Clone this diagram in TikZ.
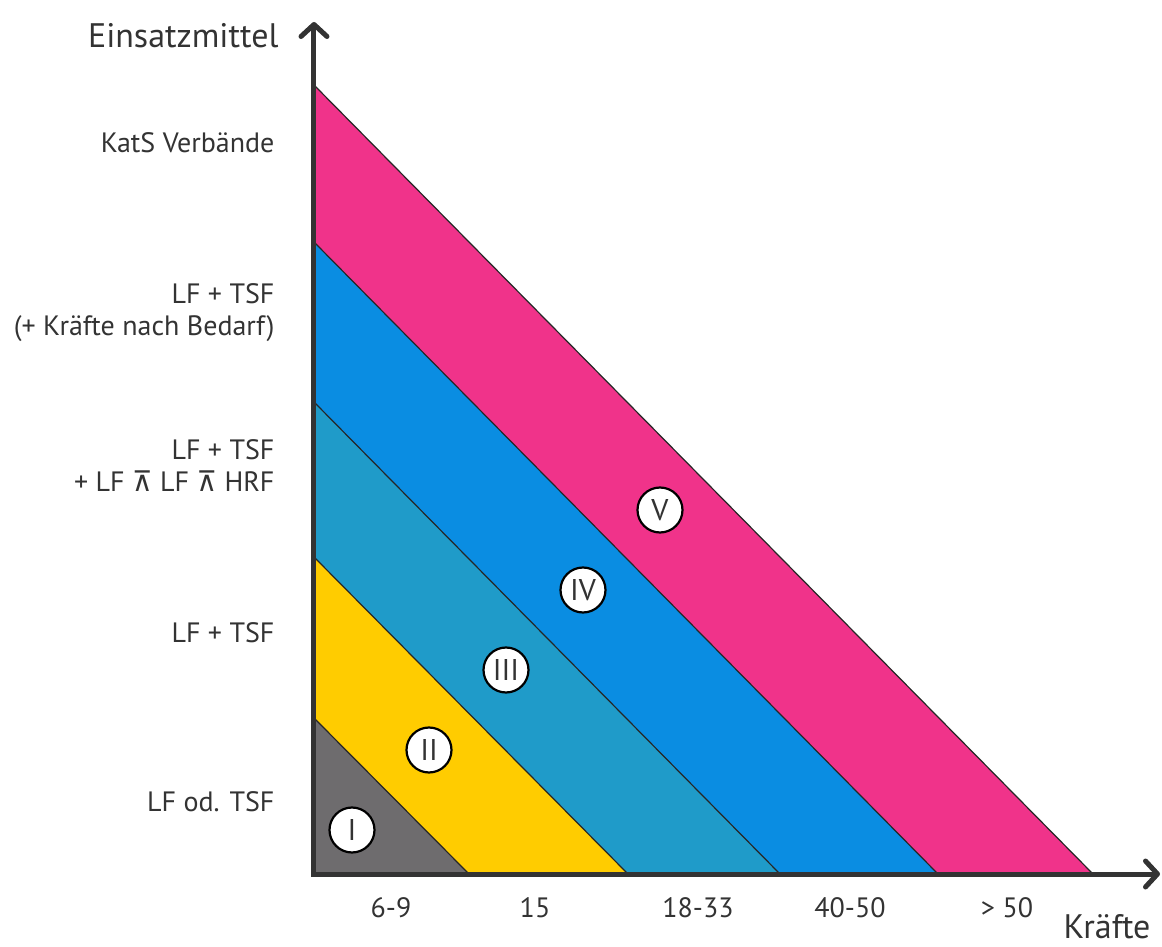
\documentclass[tikz,border=0pt]{standalone}
\usepackage{fontspec}
\setmainfont{PT Sans}
\newfontfamily\symfont{DejaVu Sans}
\usepackage{xcolor}
\usetikzlibrary{arrows.meta}

\definecolor{achse}{HTML}{333333}
\definecolor{grau}{HTML}{6E6C6E}
\definecolor{gelb}{HTML}{FFCC00}
\definecolor{petrol}{HTML}{1F9BC9}
\definecolor{blau}{HTML}{0A8DE2}
\definecolor{rosa}{HTML}{F0338A}

\tikzset{
    band/.style={draw=black!85, line width=1.2pt, line join=round},
    stufe/.style={circle, draw=black, line width=2.2pt, fill=white,
        minimum size=45pt, inner sep=0pt, text=achse,
        font=\fontsize{30pt}{30pt}\selectfont},
    mittel/.style={anchor=east, align=right, text=achse,
        font=\fontsize{28pt}{32pt}\selectfont},
    kraft/.style={text=achse, font=\fontsize{28pt}{32pt}\selectfont},
}

\begin{document}
\begin{tikzpicture}[x=1pt, y=1pt,
    >={Straight Barb[length=12pt, width=26pt, round]}]
    \useasboundingbox (-314,-72) rectangle (848,874);

    % 1. Bänder (von außen nach innen)
    \foreach \a/\b/\c in {779/789/rosa, 624/632/blau, 466/472/petrol,
                          314/317/gelb, 155/156/grau} {
        \filldraw[band, fill=\c] (0,0) -- (\a,0) -- (0,\b) -- cycle;
    }

    % 2. Achsen
    \coordinate (O) at (0,0);
    \coordinate (xende) at (846,0);
    \coordinate (yende) at (0,852);
    \draw[<->, line width=5pt, achse] (yende) -- (O) -- (xende);
    \node[mittel, font=\fontsize{34pt}{38pt}\selectfont] (ytitel) at (-32,838) {Einsatzmittel};
    \node[kraft, anchor=base, inner sep=1pt, font=\fontsize{34pt}{38pt}\selectfont] (xtitel) at (793,-64) {Kräfte};

    % 3. Stufen I bis V
    \foreach \r [count=\i] in {I,II,III,IV,V} {
        \node[stufe] (st\i) at ({38+77*(\i-1)},{44+80*(\i-1)}) {\r};
    }

    % 4. Einsatzmittel
    \node[mittel] (e1) at (-36,72) {LF od. TSF};
    \node[mittel] (e2) at (-36,241) {LF + TSF};
    \node[mittel] (e3) at (-36,408) {LF + TSF\\+ LF {\symfont ⊼} LF {\symfont ⊼} HRF};
    \node[mittel] (e4) at (-36,561) {LF + TSF\\(+ Kräfte nach Bedarf)};
    \node[mittel] (e5) at (-36,731) {KatS Verbände};

    % 5. Kräfte
    \foreach \x/\t [count=\i] in {77/6-9, 221/15, 384/18-33, 536/40-50, 693/{> 50}} {
        \node[kraft] (k\i) at (\x,-34) {\t};
    }
\end{tikzpicture}
\end{document}
